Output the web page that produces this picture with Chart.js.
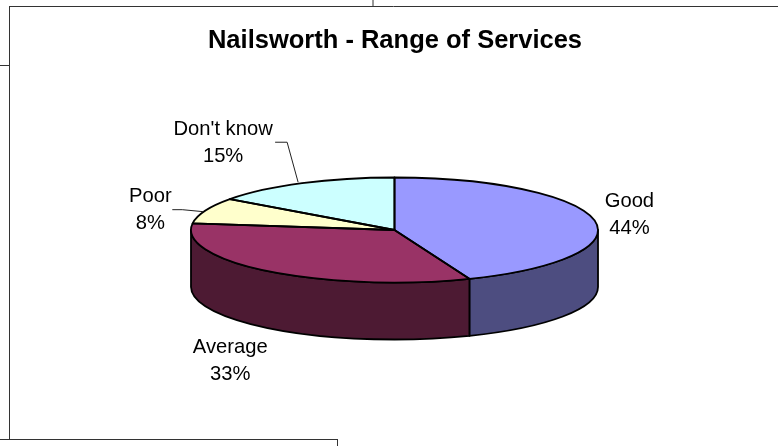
<!DOCTYPE html>
<html>
<head>
<meta charset="utf-8">
<title>Nailsworth - Range of Services</title>
<script src="https://cdn.jsdelivr.net/npm/chart.js@4/dist/chart.umd.min.js"></script>
<style>
    html, body { margin: 0; padding: 0; background: #fff; overflow: hidden; }
    canvas { display: block; }
</style>
</head>
<body>
<canvas id="servicesChart" width="778" height="446"></canvas>
<script>
const chartTitle = 'Nailsworth - Range of Services';
const categories = ['Good', 'Average', 'Poor', "Don't know"];
const percentages = [44, 33, 8, 15];
const topColors = ['#9999FF', '#993366', '#FFFFCC', '#CCFFFF'];
const wallColors = ['#4D4D80', '#4D1A33', '#80806A', '#6A8080'];

// label offset from the middle of each slice's rim, first baseline
const labelOffsets = [[35, -13], [-39.5, 82], [-55, -9], [-79, -48]];
// leader lines, also relative to the rim point
const leaderOffsets = [null, null, [[-2, 1], [-23, -1], [-33, -1]], [[-4, -1], [-15, -41], [-27, -41]]];

// shape of the tilted pie on the page
const pie = { cx: 394.5, cy: 230, rx: 203.5, ry: 52.5, depth: 57 };
const labelFont = '20.2px "Liberation Sans", Arial, sans-serif';
const lineGap = 27;
const outlineWidth = 1.8;

// table rules around the chart
const frameLines = [
    [9, 6, 778, 6], [9, 6, 9, 439], [0, 439, 337, 439], [337, 439, 337, 446],
    [0, 65, 9, 65], [372.5, 0, 372.5, 6]
];

function rimPoint(angle) {
    return { x: pie.cx + pie.rx * Math.cos(angle), y: pie.cy + pie.ry * Math.sin(angle) };
}

const tiltedPie = {
    id: 'tiltedPie',
    beforeDraw(chart) {
        const ctx = chart.ctx;
        ctx.save();
        ctx.fillStyle = '#fff';
        ctx.fillRect(0, 0, chart.width, chart.height);
        ctx.strokeStyle = '#333';
        ctx.lineWidth = 1;
        frameLines.forEach(l => {
            ctx.beginPath();
            ctx.moveTo(l[0] + (l[0] === l[2] ? 0.5 : 0), l[1] + (l[1] === l[3] ? 0.5 : 0));
            ctx.lineTo(l[2] + (l[0] === l[2] ? 0.5 : 0), l[3] + (l[1] === l[3] ? 0.5 : 0));
            ctx.stroke();
        });
        ctx.restore();
    },
    beforeDatasetsDraw(chart) {
        const ctx = chart.ctx;
        const arcs = chart.getDatasetMeta(0).data;

        // side walls, only the part of each slice that faces front
        ctx.save();
        ctx.lineWidth = outlineWidth;
        ctx.strokeStyle = '#000';
        ctx.lineJoin = 'round';
        arcs.forEach((arc, i) => {
            const from = Math.max(arc.startAngle, 0);
            const to = Math.min(arc.endAngle, Math.PI);
            if (to <= from) return;
            ctx.beginPath();
            ctx.ellipse(pie.cx, pie.cy, pie.rx, pie.ry, 0, from, to);
            ctx.ellipse(pie.cx, pie.cy + pie.depth, pie.rx, pie.ry, 0, to, from, true);
            ctx.closePath();
            ctx.fillStyle = wallColors[i];
            ctx.fill();
            ctx.stroke();
        });
        ctx.restore();

        // squash the library's circle into the top face
        const first = arcs[0];
        const r = first.outerRadius;
        ctx.save();
        ctx.translate(pie.cx, pie.cy);
        ctx.scale(pie.rx / r, pie.ry / r);
        ctx.translate(-first.x, -first.y);
    },
    afterDatasetsDraw(chart) {
        const ctx = chart.ctx;
        ctx.restore();
        const arcs = chart.getDatasetMeta(0).data;

        // outlines go on after the transform so the stroke stays even
        ctx.save();
        ctx.lineWidth = outlineWidth;
        ctx.strokeStyle = '#000';
        ctx.lineJoin = 'round';
        arcs.forEach(arc => {
            ctx.beginPath();
            ctx.moveTo(pie.cx, pie.cy);
            ctx.ellipse(pie.cx, pie.cy, pie.rx, pie.ry, 0, arc.startAngle, arc.endAngle);
            ctx.closePath();
            ctx.stroke();
        });
        ctx.restore();

        // labels and leaders
        ctx.save();
        ctx.font = labelFont;
        ctx.fillStyle = '#000';
        ctx.textAlign = 'center';
        ctx.textBaseline = 'alphabetic';
        arcs.forEach((arc, i) => {
            const rim = rimPoint((arc.startAngle + arc.endAngle) / 2);
            const x = rim.x + labelOffsets[i][0];
            const y = rim.y + labelOffsets[i][1];
            ctx.fillText(categories[i], x, y);
            ctx.fillText(percentages[i] + '%', x, y + lineGap);

            if (leaderOffsets[i]) {
                ctx.strokeStyle = '#222';
                ctx.lineWidth = 1;
                ctx.beginPath();
                leaderOffsets[i].forEach((p, k) => {
                    if (k === 0) ctx.moveTo(rim.x + p[0], rim.y + p[1]);
                    else ctx.lineTo(rim.x + p[0], rim.y + p[1]);
                });
                ctx.stroke();
            }
        });
        ctx.restore();
    }
};

new Chart(document.getElementById('servicesChart').getContext('2d'), {
    type: 'pie',
    data: {
        labels: categories,
        datasets: [{
            data: percentages,
            backgroundColor: topColors,
            borderWidth: 0
        }]
    },
    options: {
        responsive: false,
        animation: false,
        layout: { padding: { left: 12 } },
        plugins: {
            legend: { display: false },
            tooltip: { enabled: false },
            title: {
                display: true,
                text: chartTitle,
                color: '#000',
                align: 'center',
                padding: { top: 26, bottom: 10 },
                font: { family: '"Liberation Sans", Arial, sans-serif', size: 25.5, weight: 'bold' }
            }
        }
    },
    plugins: [tiltedPie]
});
</script>
</body>
</html>
